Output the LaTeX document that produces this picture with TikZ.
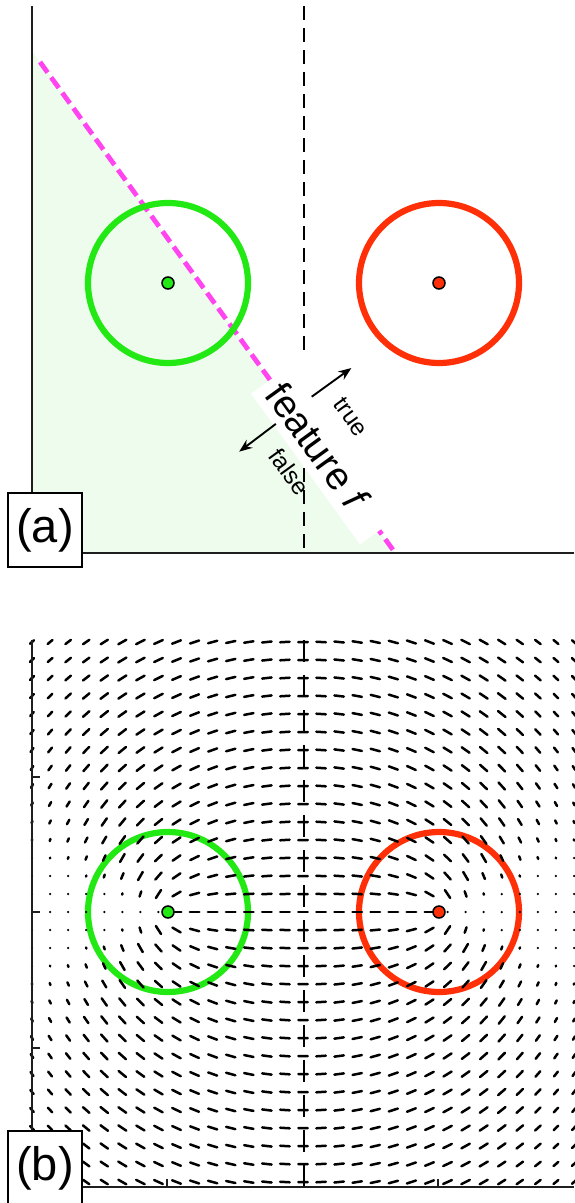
\documentclass[tikz,border=0pt]{standalone}
\usepackage{fontspec}
\setmainfont{Liberation Sans}
\usetikzlibrary{arrows.meta,calc}
\definecolor{cgreen}{RGB}{34,232,20}
\definecolor{cred}{RGB}{255,48,8}
\definecolor{cmag}{RGB}{255,68,240}
\definecolor{cshade}{RGB}{238,252,238}
\definecolor{caxis}{RGB}{30,30,30}
\begin{document}
\begin{tikzpicture}[x=1pt,y=-1pt,
  axisline/.style={caxis,line width=2.8pt},
  classring/.style={line width=6.2pt},
  centerdot/.style={circle,draw=black,line width=1.5pt,inner sep=0pt,minimum size=12pt},
  midline/.style={black,line width=2.3pt,dash pattern=on 14pt off 8pt},
  midlineb/.style={black,line width=2.5pt,dash pattern=on 22pt off 13pt},
  splitline/.style={cmag,line width=4.8pt,dash pattern=on 13pt off 6pt},
  panellabel/.style={draw=black,fill=white,line width=1.6pt,font=\fontsize{47}{50}\selectfont,inner sep=0pt,minimum width=74pt,minimum height=74pt},
  fieldseg/.style={black,line width=2.5pt,line cap=round},
  sidearrow/.style={black,line width=1.9pt,-{Stealth[length=13pt,width=10pt]}},
  sidetext/.style={font=\fontsize{24}{26}\selectfont,rotate=-54.1,inner sep=0pt},
  ticks/.style={caxis,line width=1.5pt},
]
\useasboundingbox (0,0) rectangle (574,1203);
% ---------------- panel (a)
\fill[cshade] (32,51) -- (395.2,553) -- (32,553) -- cycle;
\draw[midline] (304,6) -- (304,553);
\coordinate (m1) at (40,62);
\coordinate (m2) at (396,554);
\draw[splitline] (m1) -- (m2);
\draw[classring,cgreen] (168,283) circle[radius=80];
\draw[classring,cred] (439,283) circle[radius=80];
\node[centerdot,fill=cgreen] (ga) at (168,283) {};
\node[centerdot,fill=cred] (ra) at (439,283) {};
\coordinate (O) at (270,380);
\begin{scope}[shift={(O)}, x={(0.586pt,-0.810pt)}, y={(0.810pt,0.586pt)}]
  \fill[white] (0,-23.4) -- (186,-23.4) -- (186,60) -- (0,60) -- cycle;
  \node[rotate=-54.1,inner sep=0pt,font=\fontsize{39}{42}\selectfont] (feat) at (82,0) {feature \textit{f}};
  \coordinate (ta) at (38,24);
  \coordinate (tb) at (38,73);
  \draw[sidearrow] (ta) -- (tb);
  \node[sidetext] (ttrue) at (77,44) {true};
  \coordinate (fa) at (39,-21);
  \coordinate (fb) at (40,-67);
  \draw[sidearrow] (fa) -- (fb);
  \node[sidetext] (tfalse) at (86,-38) {false};
\end{scope}
\draw[axisline] (32,6) -- (32,553) -- (574,553);
\node[panellabel] (la) at (45,530) {(a)};
% ---------------- panel (b)
\draw[classring,cgreen] (168,912) circle[radius=80];
\draw[classring,cred] (439,912) circle[radius=80];
\foreach \i in {0,...,30}{
  \foreach \j in {0,...,30}{
    \edef\px{\fpeval{round(32+18.067*\i,3)}}
    \edef\py{\fpeval{642+18*\j}}
    \edef\ax{\fpeval{\px-168}}
    \edef\ay{\fpeval{\py-912}}
    \edef\bx{\fpeval{\px-439}}
    \edef\ra{\fpeval{sqrt(\ax*\ax+\ay*\ay)}}
    \edef\rb{\fpeval{sqrt(\bx*\bx+\ay*\ay)}}
    \edef\vx{\fpeval{\ax/\ra-\bx/\rb}}
    \edef\vy{\fpeval{\ay/\ra-\ay/\rb}}
    \edef\vm{\fpeval{max(sqrt(\vx*\vx+\vy*\vy),0.0001)}}
    \edef\len{\fpeval{9.5*min(1,max(0,(\vm/2-0.13)/0.22))}}
    \edef\hx{\fpeval{round(0.5*\len*\vx/\vm,3)}}
    \edef\hy{\fpeval{round(0.5*\len*\vy/\vm,3)}}
    \draw[fieldseg] ({\px-(\hx)},{\py-(\hy)}) -- ({\px+(\hx)},{\py+(\hy)});
  }
}
\draw[midlineb] (304,640) -- (304,1187);
\node[centerdot,fill=cgreen] (gb) at (168,912) {};
\node[centerdot,fill=cred] (rb) at (439,912) {};
\draw[axisline] (32,640) -- (32,1187) -- (574,1187);
\foreach \ty in {777,912,1048} \draw[ticks] (32,\ty) -- (40,\ty);
\foreach \tx in {167,438} \draw[ticks] (\tx,1187) -- (\tx,1179);
\node[panellabel] (lb) at (45,1168) {(b)};
\end{tikzpicture}
\end{document}
